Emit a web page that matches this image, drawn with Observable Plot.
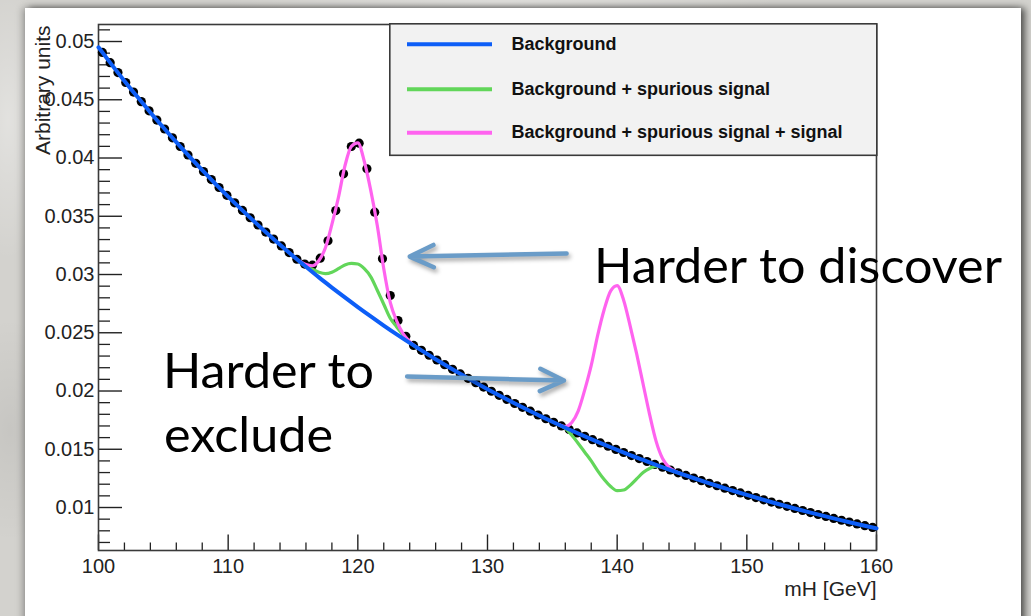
<!DOCTYPE html>
<html>
<head>
<meta charset="utf-8">
<script src="https://cdn.jsdelivr.net/npm/d3@7"></script>
<script src="https://cdn.jsdelivr.net/npm/@observablehq/plot@0.6"></script>
<style>
  html, body { margin: 0; padding: 0; }
  body {
    width: 1031px; height: 616px; overflow: hidden; position: relative;
    background:
      radial-gradient(ellipse 60px 200px at 8px 120px, rgba(255,255,255,0.35), transparent 70%),
      radial-gradient(ellipse 80px 160px at 10px 430px, rgba(0,0,0,0.06), transparent 70%),
      radial-gradient(ellipse 400px 20px at 500px 2px, rgba(255,255,255,0.3), transparent 70%),
      #d3d2ce;
  }
  #panel {
    position: absolute; left: 25px; top: 8px; width: 996px; height: 640px;
    background: #fff;
    box-shadow: 4px 0 7px rgba(0,0,0,0.6), -3px 0 7px rgba(0,0,0,0.22);
  }
  #chart { position: absolute; left: 25px; top: 8px; }
  #legend { position: absolute; left: 389px; top: 23px; }
  #notes { position: absolute; left: 0; top: 0; pointer-events: none; }
</style>
</head>
<body>
<div id="panel"></div>
<div id="chart"></div>
<svg id="legend" width="489" height="134"></svg>
<svg id="notes" width="1031" height="616"></svg>
<script>
// ---- mass axis (GeV) ----
const massMin = 100, massMax = 160;
const xMajorTicks = [100, 110, 120, 130, 140, 150, 160];
const xMinorTicks = [102, 104, 106, 108, 112, 114, 116, 118, 122, 124, 126, 128,
  132, 134, 136, 138, 142, 144, 146, 148, 152, 154, 156, 158];
const yMajorTicks = [0.01, 0.015, 0.02, 0.025, 0.03, 0.035, 0.04, 0.045, 0.05];
const yMinorTicks = [0.007, 0.008, 0.009, 0.011, 0.012, 0.013, 0.014, 0.016, 0.017, 0.018,
  0.019, 0.021, 0.022, 0.023, 0.024, 0.026, 0.027, 0.028, 0.029, 0.031, 0.032, 0.033,
  0.034, 0.036, 0.037, 0.038, 0.039, 0.041, 0.042, 0.043, 0.044, 0.046, 0.047, 0.048,
  0.049, 0.051];
const yRange = [0.00631, 0.05146];

// ---- background model, one value per GeV from 100 to 160 ----
const background = [
  0.04950, 0.04804, 0.04662, 0.04525, 0.04391, 0.04262, 0.04136, 0.04014, 0.03896, 0.03781,
  0.03669, 0.03561, 0.03456, 0.03354, 0.03255, 0.03159, 0.03066, 0.02975, 0.02888, 0.02803,
  0.02720, 0.02640, 0.02562, 0.02486, 0.02413, 0.02342, 0.02273, 0.02206, 0.02141, 0.02077,
  0.02016, 0.01957, 0.01899, 0.01843, 0.01789, 0.01736, 0.01685, 0.01635, 0.01587, 0.01540,
  0.01495, 0.01450, 0.01408, 0.01366, 0.01326, 0.01287, 0.01249, 0.01212, 0.01176, 0.01142,
  0.01108, 0.01075, 0.01043, 0.01013, 0.009828, 0.009538, 0.009256, 0.008984, 0.008718, 0.008461,
  0.008212
];

// ---- pseudo-data: 100 bins of 0.6 GeV, first bin centre at 100.3 ----
const dataBinStart = 100.3, dataBinWidth = 0.6;
const dataCounts = [
  0.04906, 0.04818, 0.04733, 0.04648, 0.04566, 0.04484, 0.04405, 0.04326, 0.04249, 0.04173,
  0.04099, 0.04026, 0.03954, 0.03884, 0.03815, 0.03747, 0.03680, 0.03615, 0.03550, 0.03487,
  0.03425, 0.03364, 0.03304, 0.03245, 0.03188, 0.03131, 0.03090, 0.03080, 0.03140, 0.03290,
  0.03549, 0.03864, 0.04099, 0.04127, 0.03907, 0.03535, 0.03135, 0.02820, 0.02605, 0.02470,
  0.02391, 0.02349, 0.02307, 0.02266, 0.02226, 0.02186, 0.02147, 0.02109, 0.02071, 0.02034,
  0.01998, 0.01963, 0.01928, 0.01893, 0.01860, 0.01827, 0.01794, 0.01762, 0.01731, 0.01700,
  0.01670, 0.01640, 0.01611, 0.01582, 0.01554, 0.01526, 0.01499, 0.01472, 0.01446, 0.01420,
  0.01395, 0.01370, 0.01346, 0.01322, 0.01298, 0.01275, 0.01253, 0.01230, 0.01208, 0.01187,
  0.01166, 0.01145, 0.01125, 0.01105, 0.01085, 0.01066, 0.01047, 0.01028, 0.01010, 0.009918,
  0.009742, 0.009569, 0.009398, 0.009231, 0.009067, 0.008905, 0.008746, 0.008591, 0.008438, 0.008288
];

// ---- the two bump windows, sampled every 0.5 GeV ----
const window120Start = 115.5, window140Start = 135.5, windowStep = 0.5;
const spurious120 = [0.03112, 0.03070, 0.03045, 0.03020, 0.03008, 0.03020, 0.03050, 0.03082,
  0.03095, 0.03090, 0.03050, 0.02980, 0.02865, 0.02745, 0.02625, 0.02550, 0.02480, 0.02420, 0.02377];
const signal120 = [0.03115, 0.03085, 0.03075, 0.03120, 0.03230, 0.03430, 0.03660, 0.03930,
  0.04100, 0.04130, 0.03970, 0.03720, 0.03420, 0.03050, 0.02760, 0.02600, 0.02490, 0.02425, 0.02377];
const spurious140 = [0.01710, 0.01680, 0.01620, 0.01550, 0.01475, 0.01400, 0.01315, 0.01240,
  0.01180, 0.01145, 0.01150, 0.01190, 0.01245, 0.01300, 0.01335, 0.01355, 0.01346, 0.01326, 0.01306, 0.01287];
const signal140 = [0.01712, 0.01695, 0.01730, 0.01830, 0.02010, 0.02220, 0.02480, 0.02700,
  0.02860, 0.02905, 0.02780, 0.02560, 0.02320, 0.02060, 0.01800, 0.01570, 0.01420, 0.01345, 0.01310, 0.01287];

// ---- series styling / legend ----
const seriesNames = ["Background", "Background + spurious signal", "Background + spurious signal + signal"];
const seriesColors = ["#0d5ef7", "#62d65a", "#ff63ef"];

// ---- annotation arrows (GeV, arbitrary units) ----
const arrowSpecs = [
  {x1: 136.1, y1: 0.03180, x2: 124.0, y2: 0.03154},
  {x1: 123.8, y1: 0.02124, x2: 135.9, y2: 0.02090}
];

// ---- tables for the marks ----
const bgRows = background.map((v, i) => ({mass: massMin + i, value: v}));
const dataRows = dataCounts.map((v, i) => ({mass: dataBinStart + dataBinWidth * i, value: v}));
const windowRows = (vals, start, seg) => vals.map((v, i) => ({mass: start + windowStep * i, value: v, seg}));
const spurRows = [...windowRows(spurious120, window120Start, "a"), ...windowRows(spurious140, window140Start, "b")];
const sigRows = [...windowRows(signal120, window120Start, "a"), ...windowRows(signal140, window140Start, "b")];

const W = 996, H = 608;
const M = {top: 16, right: 145, bottom: 66, left: 73};
const frameW = W - M.left - M.right;
const frameH = H - M.top - M.bottom;
const tickInk = "#222";

const chart = Plot.plot({
  width: W, height: H,
  marginTop: M.top, marginRight: M.right, marginBottom: M.bottom, marginLeft: M.left,
  x: {domain: [massMin, massMax]},
  y: {domain: yRange},
  style: {fontFamily: "'Liberation Sans', Arial, sans-serif", fontSize: "20px", color: "#222", background: "transparent", overflow: "visible"},
  marks: [
    Plot.ruleX(xMinorTicks, {stroke: tickInk, strokeWidth: 1.3, insetTop: frameH - 7.5}),
    Plot.ruleX(xMajorTicks, {stroke: tickInk, strokeWidth: 1.4, insetTop: frameH - 15.5}),
    Plot.ruleY(yMinorTicks, {stroke: tickInk, strokeWidth: 1.3, insetRight: frameW - 12}),
    Plot.ruleY(yMajorTicks, {stroke: tickInk, strokeWidth: 1.4, insetRight: frameW - 24}),
    Plot.frame({stroke: "#3a3a3a", strokeWidth: 1.6}),
    Plot.dot(dataRows, {x: "mass", y: "value", r: 4.6, fill: "#000", stroke: "none"}),
    Plot.line(spurRows, {x: "mass", y: "value", z: "seg", stroke: seriesColors[1], strokeWidth: 3.2, curve: "monotone-x"}),
    Plot.line(sigRows, {x: "mass", y: "value", z: "seg", stroke: seriesColors[2], strokeWidth: 3.2, curve: "monotone-x"}),
    Plot.line(bgRows, {x: "mass", y: "value", stroke: seriesColors[0], strokeWidth: 4, curve: "monotone-x"}),
    Plot.axisX(xMajorTicks, {tickSize: 0, tickPadding: 8, label: null, tickFormat: d => String(d), fontSize: 20}),
    Plot.axisY(yMajorTicks, {tickSize: 0, tickPadding: 4, label: null, tickFormat: d => String(+d.toFixed(3)), fontSize: 20}),
    Plot.text(["mH [GeV]"], {frameAnchor: "bottom-right", textAnchor: "end", lineAnchor: "bottom", dy: 45, fontSize: 21}),
    Plot.text(["Arbitrary units"], {frameAnchor: "top-left", rotate: -90, textAnchor: "end", lineAnchor: "bottom", dx: -48.5, dy: 1, fontSize: 21}),
    Plot.arrow(arrowSpecs, {x1: "x1", y1: "y1", x2: "x2", y2: "y2", stroke: "#6a9cc8", strokeWidth: 4.5, headAngle: 50, headLength: 8.8})
  ]
});
d3.select(chart).selectAll("g[aria-label='arrow']").style("filter", "drop-shadow(2px 3px 2px rgba(0,0,0,0.35))");
document.getElementById("chart").appendChild(chart);

// ---- legend box ----
const legend = d3.select("#legend");
legend.append("rect").attr("x", 0.8).attr("y", 0.8).attr("width", 487).attr("height", 131.5)
  .attr("fill", "#f2f2f2").attr("stroke", "#3a3a3a").attr("stroke-width", 1.6);
const legendRowsY = [21.3, 66.3, 109.7];
seriesNames.forEach((name, i) => {
  legend.append("line").attr("x1", 18).attr("x2", 103).attr("y1", legendRowsY[i]).attr("y2", legendRowsY[i])
    .attr("stroke", seriesColors[i]).attr("stroke-width", 4);
  legend.append("text").attr("x", 122.5).attr("y", legendRowsY[i] + 5.6)
    .attr("font-family", "'Liberation Sans', Arial, sans-serif").attr("font-weight", "bold")
    .attr("font-size", 18).attr("fill", "#111").text(name);
});

// ---- slide annotations ----
const notes = d3.select("#notes");
const noteSpecs = [
  {text: "Harder to discover", x: 594, y: 283, len: 408},
  {text: "Harder to", x: 163, y: 388, len: 211},
  {text: "exclude", x: 164, y: 452, len: 169}
];
noteSpecs.forEach(n => {
  notes.append("text").attr("x", n.x).attr("y", n.y)
    .attr("font-family", "Lato, 'Open Sans', sans-serif").attr("font-size", 48.8)
    .attr("fill", "#000").attr("textLength", n.len).attr("lengthAdjust", "spacingAndGlyphs")
    .text(n.text);
});
</script>
</body>
</html>
